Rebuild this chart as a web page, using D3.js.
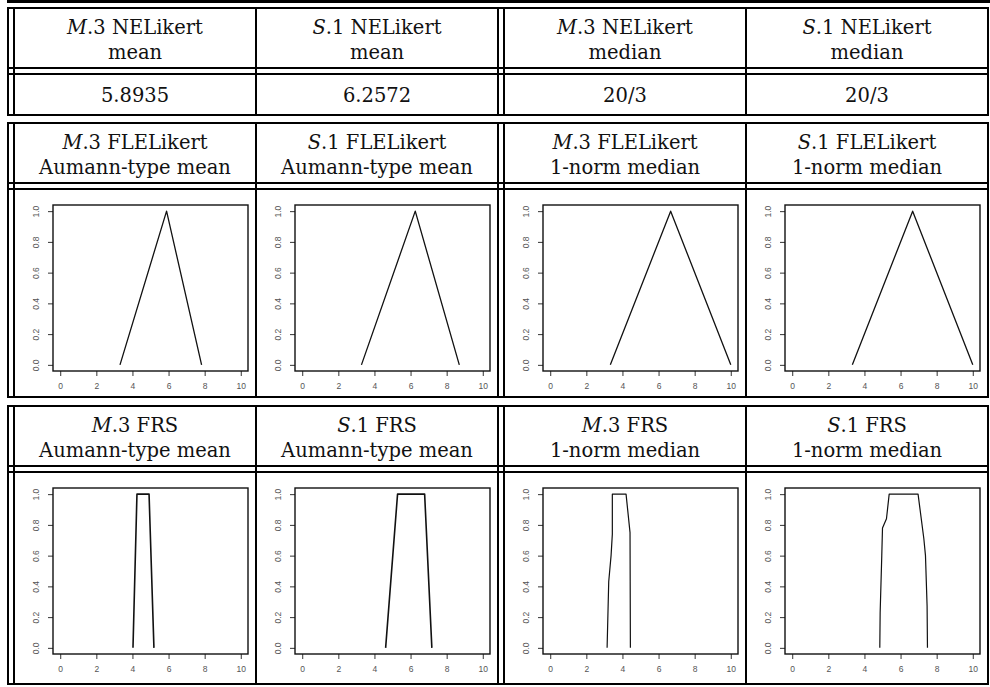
<!DOCTYPE html>
<html lang="en">
<head>
<meta charset="UTF-8">
<title>NELikert / FLELikert / FRS summaries</title>
<style>
    body { margin: 0; background: #fff; }
    .cell {
        font-family: "DejaVu Serif", serif;
        font-size: 19.5px;
        fill: #111;
    }
    .tick text {
        font-family: "Liberation Sans", Arial, sans-serif;
        font-size: 8.5px;
        fill: #555;
    }
    .tick line { stroke: #333; }
</style>
</head>
<body>
<svg width="990" height="687"></svg>
<script src="https://cdn.jsdelivr.net/npm/d3@7"></script>
<script>

    // table text
    var kinds = ["NELikert", "FLELikert", "FRS"];
    var sampleLetters = ["M", "S", "M", "S"];
    var sampleNumbers = [".3", ".1", ".3", ".1"];
    var neStats = ["mean", "mean", "median", "median"];
    var neValues = ["5.8935", "6.2572", "20/3", "20/3"];
    var fuzzyStats = ["Aumann-type mean", "Aumann-type mean", "1-norm median", "1-norm median"];

    var xTicks = [0, 2, 4, 6, 8, 10];
    var yTicks = [0, 0.2, 0.4, 0.6, 0.8, 1];

    // membership functions as [x, alpha] points
    var fleM3Mean = [[3.31, 0], [5.89, 1], [7.83, 0]];
    var fleS1Mean = [[3.28, 0], [6.26, 1], [8.70, 0]];
    var fleM3Median = [[3.33, 0], [6.67, 1], [10, 0]];
    var fleS1Median = [[3.33, 0], [6.67, 1], [10, 0]];

    var frsM3Mean = [[4.03, 0], [4.25, 1], [4.92, 1], [5.19, 0]];
    var frsS1Mean = [[4.62, 0], [5.28, 1], [6.78, 1], [7.18, 0]];
    var frsM3Median = [[3.15, 0], [3.24, 0.43], [3.37, 0.6], [3.44, 0.74], [3.44, 1],
                       [4.20, 1], [4.42, 0.75], [4.44, 0]];
    var frsS1Median = [[4.85, 0], [4.87, 0.23], [4.96, 0.6], [5.0, 0.78], [5.22, 0.84],
                       [5.37, 1], [6.97, 1], [7.29, 0.71], [7.38, 0.6], [7.47, 0.27], [7.49, 0]];

    var svg = d3.select("svg");

    // layout
    var colLeft = [14, 256, 504, 746],
        colRight = [256, 498, 746, 988],
        vLines = [8, 14, 256, 498, 504, 746, 988];
    var tables = [
        {top: 8, head: 68, bottom: 115},
        {top: 123, head: 183, bottom: 397},
        {top: 406, head: 466, bottom: 684}
    ];
    var boxW = 195, boxH = 166;

    function hline(g, y, x1, x2, w) {
        g.append("line")
            .attr("x1", x1).attr("x2", x2)
            .attr("y1", y).attr("y2", y)
            .attr("stroke", "#000")
            .attr("stroke-width", w);
    }

    // tail of the table above, cut by the page
    hline(svg, 1.5, 7, 990, 3);

    tables.forEach(function(t, ti) {
        var g = svg.append("g");

        [t.top, t.head, t.head + 6, t.bottom].forEach(function(y) {
            hline(g, y, 7, 989, 2);
        });
        vLines.forEach(function(x) {
            g.append("line")
                .attr("x1", x).attr("x2", x)
                .attr("y1", t.top - 1).attr("y2", t.bottom + 1)
                .attr("stroke", "#000")
                .attr("stroke-width", 2);
        });

        d3.range(4).forEach(function(i) {
            var cx = (colLeft[i] + colRight[i]) / 2;
            var t1 = g.append("text")
                .attr("class", "cell")
                .attr("x", cx)
                .attr("y", t.top + 26)
                .attr("text-anchor", "middle");
            t1.append("tspan").attr("font-style", "italic").text(sampleLetters[i]);
            t1.append("tspan").text(sampleNumbers[i] + " " + kinds[ti]);

            g.append("text")
                .attr("class", "cell")
                .attr("x", cx)
                .attr("y", t.top + 51)
                .attr("text-anchor", "middle")
                .text(ti === 0 ? neStats[i] : fuzzyStats[i]);

            if (ti === 0) {
                g.append("text")
                    .attr("class", "cell")
                    .attr("x", cx)
                    .attr("y", 102)
                    .attr("text-anchor", "middle")
                    .text(neValues[i]);
            }
        });
    });

    function drawPlot(col, boxTop, pts, lw) {
        var left = colLeft[col] + 39;
        var x = d3.scaleLinear().domain([-0.4, 10.4]).range([left, left + boxW]),
            y = d3.scaleLinear().domain([-0.04, 1.04]).range([boxTop + boxH, boxTop]);

        var g = svg.append("g");

        var xa = g.append("g")
            .attr("transform", "translate(0," + (boxTop + boxH) + ")")
            .call(d3.axisBottom(x).tickValues(xTicks).tickSize(5).tickPadding(7)
                .tickFormat(d3.format("d")));
        xa.select(".domain").remove();

        var ya = g.append("g")
            .attr("transform", "translate(" + left + ",0)")
            .call(d3.axisLeft(y).tickValues(yTicks).tickSize(5)
                .tickFormat(d3.format(".1f")));
        ya.select(".domain").remove();
        ya.selectAll(".tick text")
            .attr("transform", "rotate(-90)")
            .attr("x", 0)
            .attr("y", -14)
            .attr("dy", 0)
            .attr("text-anchor", "middle");

        g.append("rect")
            .attr("x", left).attr("y", boxTop)
            .attr("width", boxW).attr("height", boxH)
            .attr("fill", "none")
            .attr("stroke", "#111")
            .attr("stroke-width", 1.4);

        g.append("path")
            .datum(pts)
            .attr("d", d3.line().x(function(d) { return x(d[0]); }).y(function(d) { return y(d[1]); }))
            .attr("fill", "none")
            .attr("stroke", "#111")
            .attr("stroke-width", lw)
            .attr("stroke-linejoin", "round");
    }

    var fleTop = tables[1].head + 22,
        frsTop = tables[2].head + 22;

    [fleM3Mean, fleS1Mean, fleM3Median, fleS1Median].forEach(function(p, i) {
        drawPlot(i, fleTop, p, 1.3);
    });
    [frsM3Mean, frsS1Mean, frsM3Median, frsS1Median].forEach(function(p, i) {
        drawPlot(i, frsTop, p, i < 2 ? 1.6 : 1.2);
    });
</script>
</body>
</html>
